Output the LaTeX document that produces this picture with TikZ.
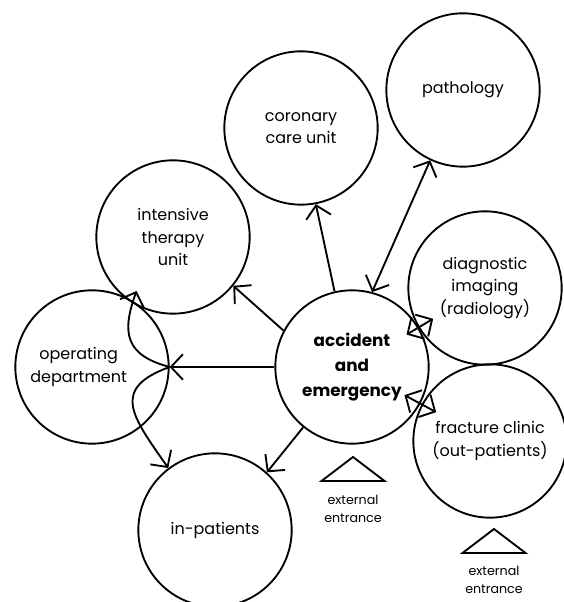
\documentclass[tikz,border=0pt]{standalone}
\usepackage{fontspec}
\setmainfont{Poppins}
\usetikzlibrary{arrows.meta,calc}
\tikzset{
  unit/.style={draw, circle, line width=1.4pt, minimum size=115pt, inner sep=0pt,
    align=center, font=\fontsize{12}{17}\selectfont},
  mainunit/.style={unit, font=\fontsize{12.6}{18.8}\selectfont\bfseries},
  flow/.style={-{Straight Barb[length=9pt,width=19pt]}, line width=1.4pt},
  twoway/.style={{Straight Barb[length=9pt,width=19pt]}-{Straight Barb[length=9pt,width=19pt]}, line width=1.4pt},
  entrance/.style={align=center, inner sep=0pt, font=\fontsize{9.5}{13.5}\selectfont},
  gate/.style={line width=1.4pt, line join=miter}
}
\begin{document}
\begin{tikzpicture}[x=0.75pt, y=0.75pt]
\useasboundingbox (0,0) rectangle (563,602);
% Centre
\node[mainunit] (ae) at (352,235) {accident\\and\\emergency};

% Upper units
\node[unit] (ccu) at (301,474) {coronary\\care unit};
\node[unit] (path) at (463,512) {pathology};
\node[unit] (itu) at (173,365) {intensive\\therapy\\unit};

% Side units
\node[unit, label={[xshift=-10pt, align=center, font=\fontsize{12}{17}\selectfont]center:operating\\department}] (od) at (92,235) {};
\node[unit] (di) at (485,314) {diagnostic\\imaging\\(radiology)};
\node[unit] (fc) at (490,161) {fracture clinic\\(out-patients)};

% Lower unit
\node[unit] (ip) at (215,72) {in-patients};

% Entrances
\node[entrance] (ext1) at (353,93) {external\\entrance};
\node[entrance] (ext2) at (494,22) {external\\entrance};
\draw[gate] ($(ext1)+(0,52)$) -- ++(-31.5,-24) -- ++(63,0) -- cycle;
\draw[gate] ($(ext2)+(0,51)$) -- ++(-31.5,-24) -- ++(63,0) -- cycle;

% Connections
\draw[flow] (ae.152) -- (itu.-39);
\draw[flow] (ae.103) -- (ccu.-79);
\draw[twoway] (ae.75) -- (path.-115);
\draw[twoway] ($(ae)!0.41!(di)$) -- ($(ae)!0.61!(di)$);
\draw[twoway] ($(ae)!0.38!(fc)$) -- ($(ae)!0.61!(fc)$);
\draw[flow] (ae.180) -- (od.0);
\draw[flow] (ae.231) -- (ip.48);
\draw[flow] (od.0) to[out=165, in=250, looseness=1.4] ($(itu)!0.84!(itu.236)$);
\draw[flow] (od.0) to[out=200, in=125, looseness=1.6] (ip.127);
\end{tikzpicture}
\end{document}
